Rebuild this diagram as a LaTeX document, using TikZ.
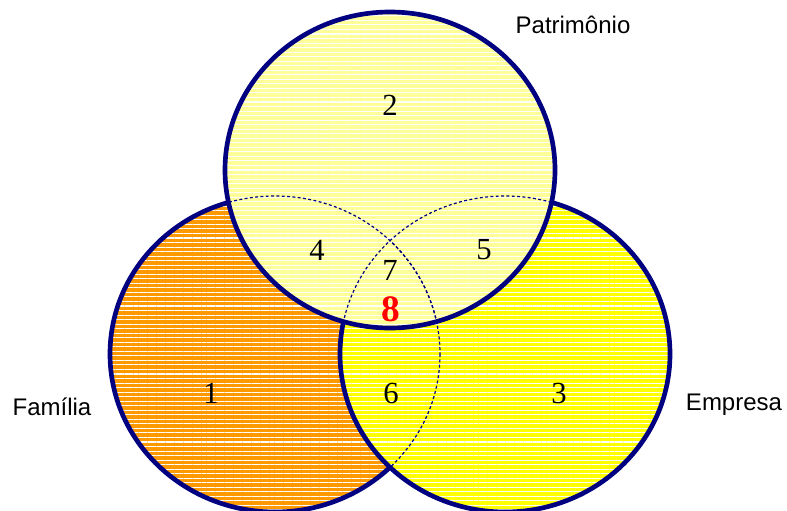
\documentclass[tikz,border=0pt]{standalone}
\usepackage{fontspec}
\setmainfont{Liberation Serif}
\newfontfamily\labelfont{Liberation Sans}
\usetikzlibrary{patterns.meta}

\definecolor{rimblue}{RGB}{0,0,128}
\definecolor{famorange}{RGB}{255,153,0}
\definecolor{empyellow}{RGB}{255,255,0}
\definecolor{patyellow}{RGB}{255,255,153}

\tikzset{
  venn/.style={x radius=165,y radius=158},
  stripes/.style={pattern={Lines[angle=0,distance=3.4pt,line width=0.8pt]},pattern color=white},
  rim/.style={draw=rimblue,line width=3.5pt},
  hidden/.style={draw=rimblue,line width=0.9pt,dash pattern=on 2.2pt off 1.8pt},
  num/.style={font=\fontsize{23}{27}\selectfont},
  setname/.style={font=\labelfont\fontsize{18}{22}\selectfont}
}

\begin{document}
\begin{tikzpicture}[x=0.75pt,y=-0.75pt]
        \useasboundingbox (0,0) rectangle (787,510);

        % Centres of the three sets
        \coordinate (fam) at (275,354);
        \coordinate (emp) at (505,354);
        \coordinate (pat) at (390,170);

        % Familia set
        \fill[famorange] (fam) ellipse [venn];
        \path[stripes] (fam) ellipse [venn];
        \draw[rim] (fam) ellipse [venn];

        % Empresa set
        \fill[empyellow] (emp) ellipse [venn];
        \path[stripes] (emp) ellipse [venn];
        \draw[rim] (emp) ellipse [venn];

        % Patrimonio set
        \fill[patyellow] (pat) ellipse [venn];
        \path[stripes] (pat) ellipse [venn];
        \draw[rim] (pat) ellipse [venn];

        % Hidden borders under the patrimonio set
        \begin{scope}
            \clip (pat) ellipse [venn];
            \draw[hidden] (fam) ellipse [venn];
            \draw[hidden] (emp) ellipse [venn];
        \end{scope}

        % Hidden border of familia under empresa
        \begin{scope}
            \clip (emp) ellipse [venn];
            \draw[hidden] (fam) ellipse [venn];
        \end{scope}

        % Region numbers
        \node[num] (r1) at (211,393) {1};
        \node[num] (r2) at (390,105) {2};
        \node[num] (r3) at (559,393) {3};
        \node[num] (r4) at (317,250) {4};
        \node[num] (r5) at (484,250) {5};
        \node[num] (r6) at (391,393) {6};
        \node[num] (r7) at (390,270) {7};
        \node[num,text=red,font=\fontsize{28}{32}\selectfont\bfseries] (r8) at (391,309) {8};

        % Set names
        \node[setname] (familia) at (52,407) {Família};
        \node[setname] (empresa) at (734,405) {Empresa};
        \node[setname] (patrimonio) at (573,25) {Patrimônio};
\end{tikzpicture}
\end{document}
